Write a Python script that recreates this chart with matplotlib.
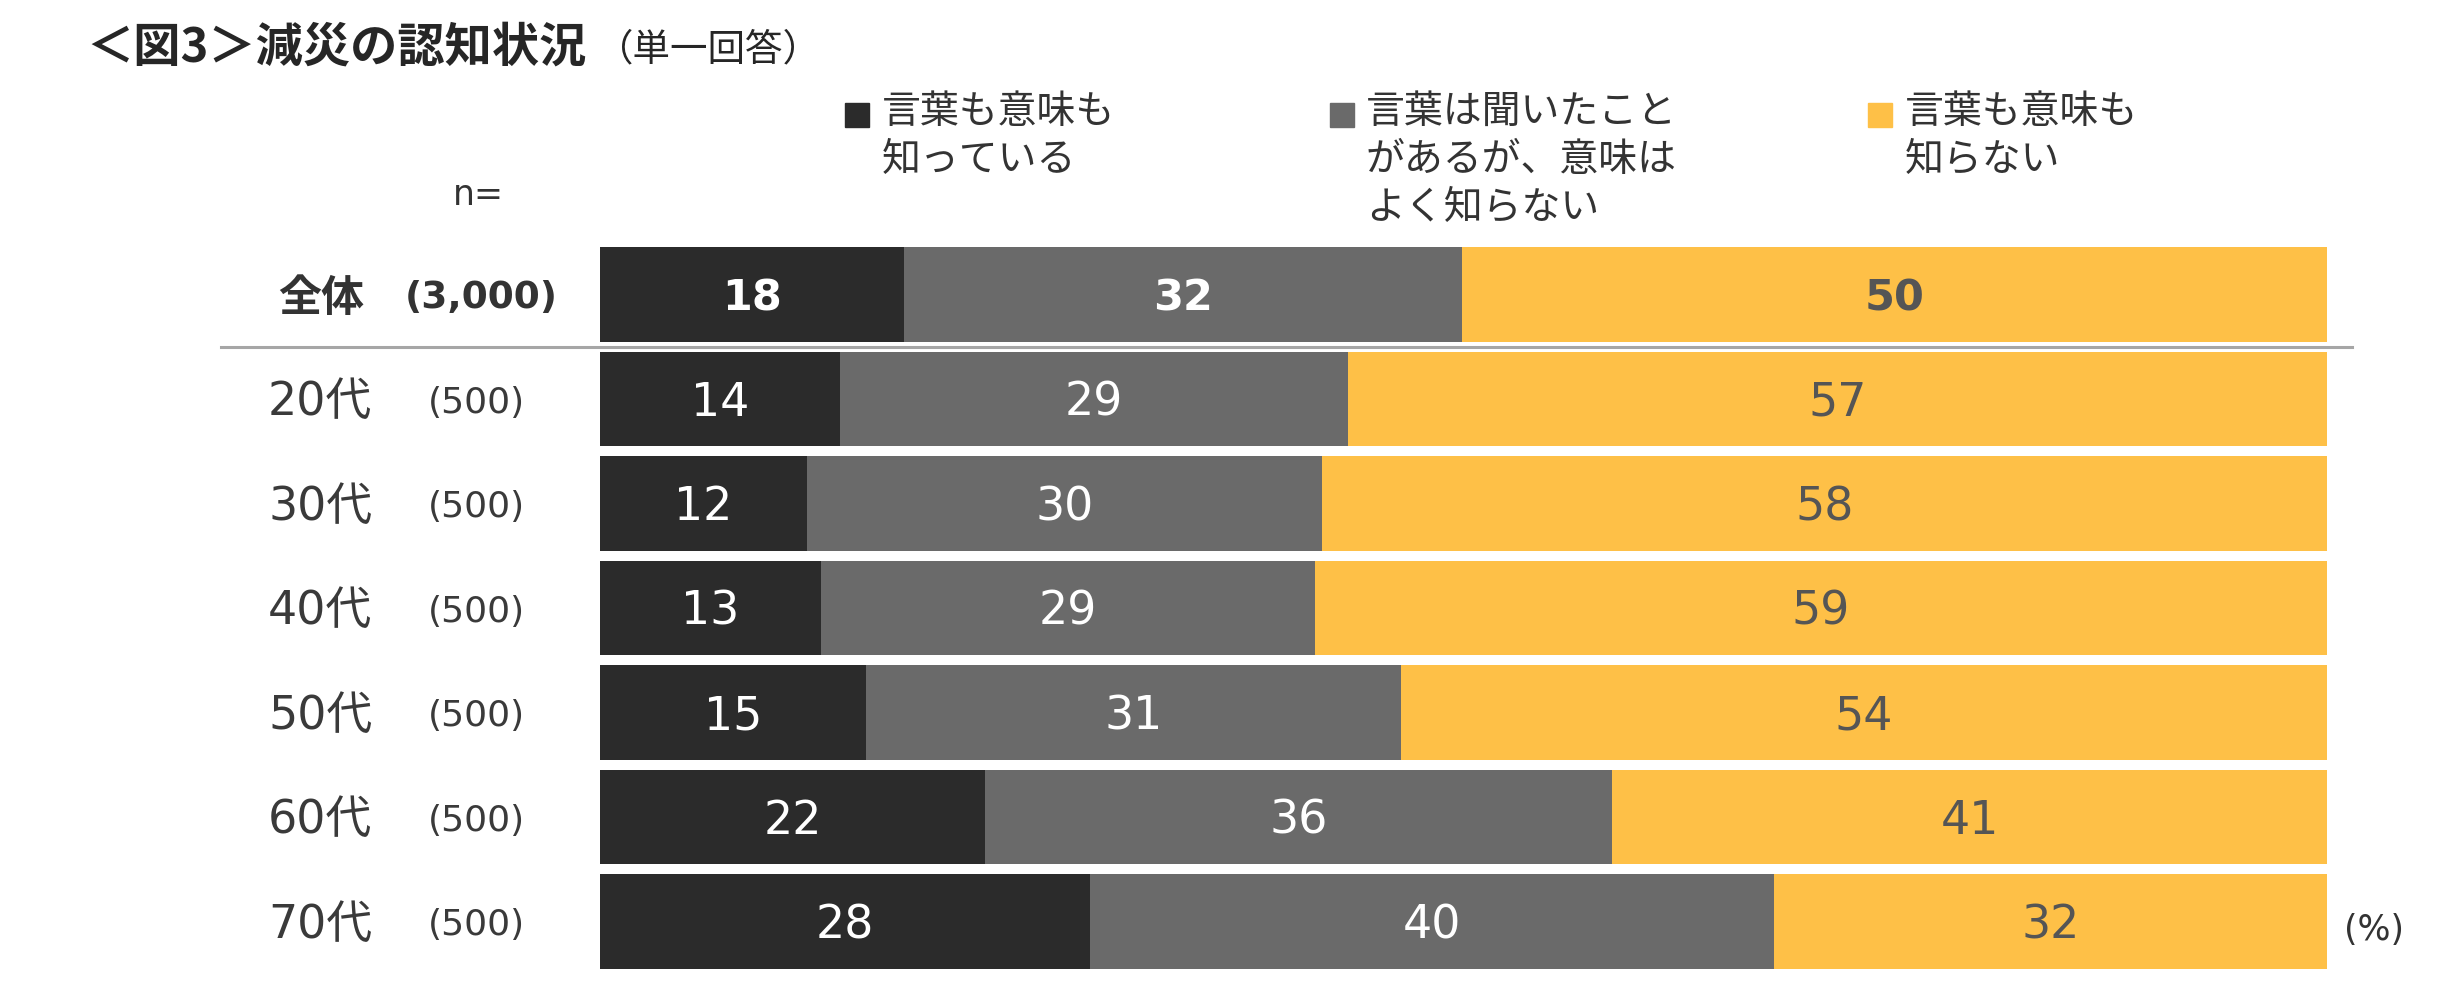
import matplotlib
matplotlib.use("Agg")
import matplotlib.pyplot as plt
import matplotlib.transforms as mtransforms

plt.rcParams['font.family'] = ['DejaVu Sans', 'Noto Sans CJK JP']

# data (%)
categories = ['全体', '20代', '30代', '40代', '50代', '60代', '70代']
n_labels = ['(3,000)', '(500)', '(500)', '(500)', '(500)', '(500)', '(500)']
know_both = [17.6, 13.9, 12.0, 12.8, 15.4, 22.3, 28.4]
heard_only = [32.3, 29.4, 29.8, 28.6, 31.0, 36.3, 39.6]
unknown = [50.1, 56.7, 58.2, 58.6, 53.6, 41.4, 32.0]
series_names = ['言葉も意味も\n知っている', '言葉は聞いたこと\nがあるが、意味は\nよく知らない', '言葉も意味も\n知らない']

colors = ['#2b2b2b', '#6a6a6a', '#fec047']
label_colors = ['white', 'white', '#555555']

W, H = 2453, 996
fig = plt.figure(figsize=(W / 100, H / 100), dpi=100)

def fx(px):
    return px / W

def fy(py):
    return 1 - py / H

# axes: bars from x=600 to 2327 px, rows from y=247 to 969 px
ax = fig.add_axes([fx(600), fy(969), fx(2327) - fx(600), fy(247) - fy(969)])
bar_h = 0.909
ypos = list(range(len(categories)))

left = [0.0] * len(categories)
for vals, c, lc in zip([know_both, heard_only, unknown], colors, label_colors):
    cont = ax.barh(ypos, vals, left=left, height=bar_h, color=c, linewidth=0)
    texts = ax.bar_label(cont, labels=[f"{v:.0f}" for v in vals], label_type='center',
                         color=lc, fontsize=33)
    for t in texts:
        t.xyann = (0, -3)
    texts[0].set_fontweight('bold')
    texts[0].set_fontsize(31)
    left = [l + v for l, v in zip(left, vals)]

ax.set_xlim(0, 100)
ax.set_ylim(6 + bar_h / 2, -bar_h / 2)
ax.axis('off')

# separator under 全体
ax.axhline(0.5, xmin=(221 - 600) / 1727, xmax=(2352 - 600) / 1727,
           color='#a6a6a6', linewidth=2.2, clip_on=False)

# row labels
tr = mtransforms.blended_transform_factory(fig.transFigure, ax.transData)
dy = 0.035
for i, (cat, n) in enumerate(zip(categories, n_labels)):
    if i == 0:
        ax.text(fx(278), i + dy, cat, transform=tr, ha='left', va='center', fontsize=31,
                fontweight='bold', color='#333333', family=['Noto Sans CJK JP'])
        ax.text(fx(405), i + dy, n, transform=tr, ha='left', va='center', fontsize=27,
                fontweight='bold', color='#333333')
    else:
        ax.text(fx(268), i + dy, cat, transform=tr, ha='left', va='center', fontsize=33,
                color='#3a3a3a')
        ax.text(fx(428), i + dy, n, transform=tr, ha='left', va='center', fontsize=26,
                color='#3a3a3a')

# title
fig.text(fx(86), fy(48), '＜図3＞減災の認知状況', ha='left', va='center', fontsize=34,
         fontweight='bold', color='#262626', family=['Noto Sans CJK JP'])
fig.text(fx(596), fy(50), '（単一回答）', ha='left', va='center', fontsize=27,
         color='#262626', family=['Noto Sans CJK JP'])

# legend
leg_marker_x = [845, 1330, 1868]
leg_text_x = [882, 1366, 1905]
for name, c, mx, tx in zip(series_names, colors, leg_marker_x, leg_text_x):
    fig.patches.append(plt.Rectangle((fx(mx), fy(127)), fx(24), 24 / H, color=c,
                                     transform=fig.transFigure, figure=fig))
    fig.text(fx(tx), fy(92), name, ha='left', va='top', fontsize=28, color='#333333',
             linespacing=1.25, family=['Noto Sans CJK JP'])

fig.text(fx(453), fy(195), 'n=', ha='left', va='center', fontsize=25, color='#333333')
fig.text(fx(2344), fy(930), '(%)', ha='left', va='center', fontsize=25, color='#333333')

fig.savefig('out.png', dpi=100)
